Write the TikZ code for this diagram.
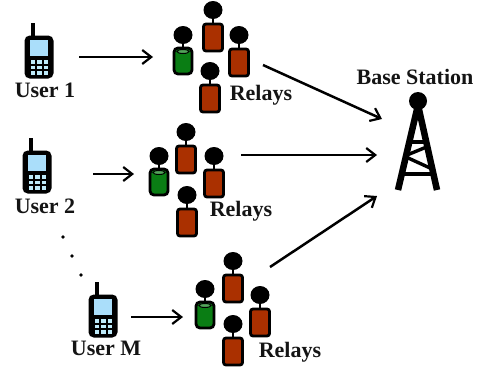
\documentclass[tikz,border=0pt]{standalone}
\usepackage{fontspec}
\setmainfont{Liberation Serif}
\usetikzlibrary{arrows.meta}
\definecolor{relayred}{RGB}{170,48,0}
\definecolor{relaygreen}{RGB}{10,125,20}
\definecolor{screenblue}{RGB}{170,222,250}
\definecolor{keycyan}{RGB}{190,235,250}
\tikzset{
  x=1pt,y=-1pt,
  lbl/.style={font=\bfseries\fontsize{22}{22}\selectfont,text=black!92,inner sep=0pt},
  link/.style={line width=2.5pt,-{Straight Barb[length=9pt,width=14pt,line width=2.2pt]}},
  bigbody/.style={draw=black,line width=2.8pt,rounded corners=2.5pt},
  pics/relayman/.style={code={
    \fill[black] (0,0) ellipse (9.5 and 9);
    \draw[black,line width=2.4pt] (0,6) -- (0,15);
    \draw[bigbody,fill=relayred] (-9.5,14) rectangle (9.5,41);
  }},
  pics/relaygreen/.style={code={
    \fill[black] (0,0) ellipse (9.5 and 9);
    \draw[black,line width=2.4pt] (0,6) -- (0,18);
    \draw[bigbody,fill=relaygreen,rounded corners=4pt] (-9,13) rectangle (9,39);
    \draw[black,line width=1pt,fill=relaygreen!70!white] (0,16.5) ellipse (6 and 2);
  }},
  pics/handset/.style={code={
    \draw[black,line width=4pt] (7,-14) -- (7,2);
    \draw[black,line width=3pt,fill=black,rounded corners=4pt] (0,0) rectangle (26,40);
    \fill[screenblue] (4,3) rectangle (22,19);
    \foreach \r in {0,1,2}{\foreach \c in {0,1,2}{
      \fill[keycyan] (4.5+\c*6.5,23+\r*5.5) rectangle ++(4.6,3.6);
    }}
  }},
}
\begin{document}
\begin{tikzpicture}
\useasboundingbox (0,0) rectangle (486,372);
\fill[white] (0,0) rectangle (486,372);
% phones
\pic at (26,37) {handset};
\pic at (24,152) {handset};
\pic at (90,296) {handset};
% labels
\node[lbl] (u1) at (45,90) {User 1};
\node[lbl] (u2) at (45,206) {User 2};
\node[lbl] (um) at (106,348) {User M};
\node[lbl] (r1) at (261,95) {Relays};
\node[lbl] (r2) at (241,211) {Relays};
\node[lbl] (r3) at (290,352) {Relays};
\node[lbl] (bs) at (415,77) {Base Station};
% relays group 1
\pic at (213,10) {relayman};
\pic at (239,35) {relayman};
\pic at (210,71) {relayman};
\pic at (183,35) {relaygreen};
% relays group 2
\pic at (186,132) {relayman};
\pic at (214,156) {relayman};
\pic at (187,195) {relayman};
\pic at (159,156) {relaygreen};
% relays group 3
\pic at (233,261) {relayman};
\pic at (260,295) {relayman};
\pic at (233,324) {relayman};
\pic at (205,289) {relaygreen};
% dots
\foreach \p in {(63,237),(72,256),(81,275)} \fill[black] \p circle (1.9);
% tower
\fill[black] (418,101) ellipse (9 and 9);
\draw[black,line width=6.5pt] (418,105) -- (398,190);
\draw[black,line width=6.5pt] (418,105) -- (437,190);
\draw[black,line width=3.4pt] (410,142) -- (426,142);
\draw[black,line width=3.4pt] (407,155) -- (429,146);
\draw[black,line width=3.4pt] (406,157) -- (430,168);
\draw[black,line width=3.4pt] (403,174) -- (433,174);
% connectors
\coordinate (a1) at (79,57); \coordinate (b1) at (153,57);
\coordinate (a2) at (93,174); \coordinate (b2) at (134,174);
\coordinate (a3) at (131,317); \coordinate (b3) at (183,317);
\coordinate (c1) at (263,65); \coordinate (d1) at (382,119);
\coordinate (c2) at (241,155); \coordinate (d2) at (377,155);
\coordinate (c3) at (270,267); \coordinate (d3) at (377,196);
\draw[link] (a1) -- (b1);
\draw[link] (a2) -- (b2);
\draw[link] (a3) -- (b3);
\draw[link] (c1) -- (d1);
\draw[link] (c2) -- (d2);
\draw[link] (c3) -- (d3);
\end{tikzpicture}
\end{document}
